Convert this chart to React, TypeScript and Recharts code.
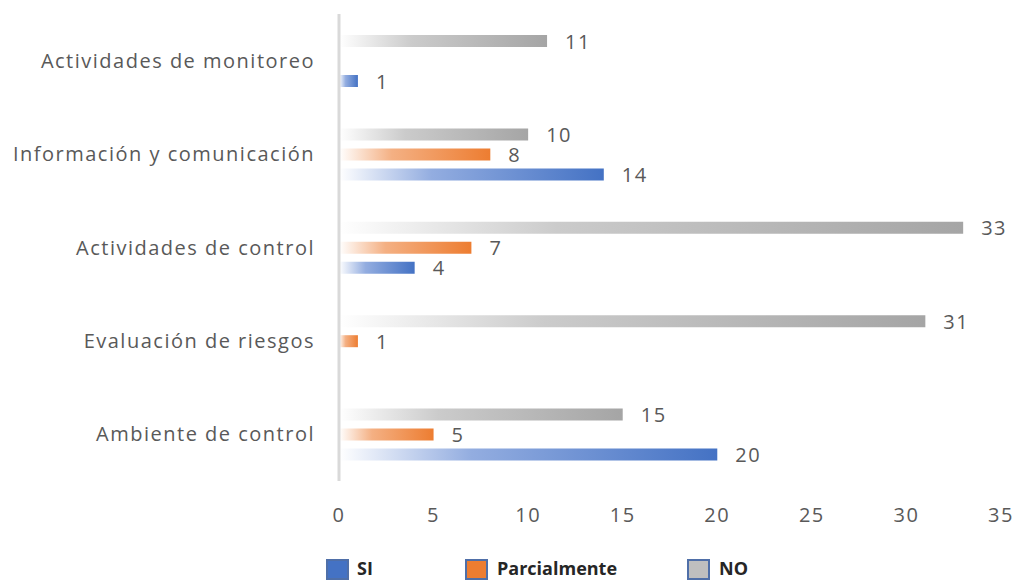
import { BarChart, Bar, XAxis, YAxis, LabelList } from 'recharts'

const categories = [
  'Actividades de monitoreo',
  'Información y comunicación',
  'Actividades de control',
  'Evaluación de riesgos',
  'Ambiente de control',
]
const siValues = [1, 14, 4, null, 20]
const parcialValues = [null, 8, 7, 1, 5]
const noValues = [11, 10, 33, 31, 15]
const xTicks = [0, 5, 10, 15, 20, 25, 30, 35]

const data = categories.map((name, i) => ({
  name,
  si: siValues[i],
  parcial: parcialValues[i],
  no: noValues[i],
}))

const FONT = '"Open Sans", "Noto Sans", sans-serif'
const TEXT = '#595959'
const SPACING = 1.5

const SERIES = [
  { key: 'si', label: 'SI', color: '#4472c4', mid: '#93ade0', swatch: '#4472c4' },
  { key: 'parcial', label: 'Parcialmente', color: '#ed7d31', mid: '#f4b083', swatch: '#ed7d31' },
  { key: 'no', label: 'NO', color: '#a5a5a5', mid: '#cbcbcb', swatch: '#bfbfbf' },
]

// value label to the right of each bar, skipped for empty entries
function ValueLabel(props: any) {
  const { x, y, width, height, value } = props
  if (value == null) return null
  return (
    <text
      x={x + width + 18}
      y={y + height / 2}
      dominantBaseline="central"
      fill={TEXT}
      fontSize={20}
      fontFamily={FONT}
      letterSpacing={SPACING}
    >
      {value}
    </text>
  )
}

function LegendRow() {
  const items = [
    { ...SERIES[0], sq: 326, tx: 357 },
    { ...SERIES[1], sq: 465, tx: 497 },
    { ...SERIES[2], sq: 687, tx: 719 },
  ]
  return (
    <>
      {items.map((it) => (
        <div key={it.key}>
          <div
            style={{
              position: 'absolute', left: it.sq, top: 559, width: 19, height: 17,
              background: it.swatch, border: '2px solid #4f6fa8',
            }}
          />
          <div
            style={{
              position: 'absolute', left: it.tx, top: 559, fontSize: 18, fontWeight: 700,
              color: '#262626', fontFamily: FONT, lineHeight: '18px', whiteSpace: 'nowrap',
            }}
          >
            {it.label}
          </div>
        </div>
      ))}
    </>
  )
}

export default function App() {
  return (
    <div style={{ position: 'absolute', left: 0, top: 0, width: 1018, height: 581, background: '#fff', overflow: 'hidden' }}>
      <BarChart
        width={1018}
        height={581}
        data={data}
        layout="vertical"
        margin={{ top: 14, right: 17, bottom: 0, left: 0 }}
        barSize={12}
        barGap={8}
      >
        <defs>
          {SERIES.map((s) => (
            <linearGradient key={s.key} id={`grad-${s.key}`} x1="0" y1="0" x2="1" y2="0">
              <stop offset="0" stopColor="#ffffff" />
              <stop offset="0.35" stopColor={s.mid} />
              <stop offset="1" stopColor={s.color} />
            </linearGradient>
          ))}
        </defs>
        <XAxis
          type="number"
          domain={[0, 35]}
          ticks={xTicks}
          axisLine={false}
          tickLine={false}
          height={100}
          tickMargin={21}
          tick={{ fill: TEXT, fontSize: 20, fontFamily: FONT, letterSpacing: SPACING }}
        />
        <YAxis
          type="category"
          dataKey="name"
          width={339}
          interval={0}
          axisLine={{ stroke: '#d9d9d9', strokeWidth: 3 }}
          tickLine={false}
          tickMargin={18}
          tick={{ fill: TEXT, fontSize: 20, fontFamily: FONT, letterSpacing: SPACING }}
        />
        {/* drawn top-to-bottom within each group: NO, Parcialmente, SI */}
        <Bar dataKey="no" fill="url(#grad-no)" isAnimationActive={false}>
          <LabelList dataKey="no" content={ValueLabel} />
        </Bar>
        <Bar dataKey="parcial" fill="url(#grad-parcial)" isAnimationActive={false}>
          <LabelList dataKey="parcial" content={ValueLabel} />
        </Bar>
        <Bar dataKey="si" fill="url(#grad-si)" isAnimationActive={false}>
          <LabelList dataKey="si" content={ValueLabel} />
        </Bar>
      </BarChart>
      <LegendRow />
    </div>
  )
}
